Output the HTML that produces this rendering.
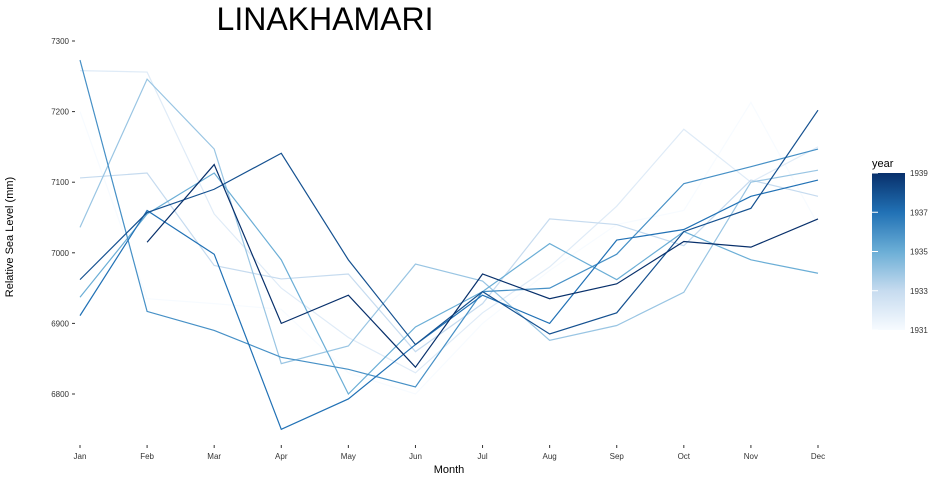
<!DOCTYPE html>
<html><head><meta charset="utf-8"><style>
body{margin:0;background:#fff;font-family:"Liberation Sans",sans-serif;}
</style></head><body>
<svg id="chart" width="940" height="480" xmlns="http://www.w3.org/2000/svg">
<defs><linearGradient id="cb" x1="0" y1="1" x2="0" y2="0">
<stop offset="0" stop-color="#f7fbff"/><stop offset="0.25" stop-color="#c6dbef"/><stop offset="0.5" stop-color="#6baed6"/><stop offset="0.75" stop-color="#2171b5"/><stop offset="1" stop-color="#08306b"/></linearGradient></defs>
<text x="325" y="30" font-size="32" text-anchor="middle" fill="#000">LINAKHAMARI</text>
<g id="axes"></g><g id="lines"></g>
<text x="449" y="473" font-size="11" text-anchor="middle">Month</text>
<text transform="translate(13,237) rotate(-90)" font-size="11" text-anchor="middle">Relative Sea Level (mm)</text>
<text x="872" y="167" font-size="11">year</text>
<rect x="872" y="173" width="33" height="157" fill="url(#cb)"/>
<g id="legend"></g>
</svg>
<script>
const months=["Jan","Feb","Mar","Apr","May","Jun","Jul","Aug","Sep","Oct","Nov","Dec"];
const yTicks=[6800,6900,7000,7100,7200,7300];
const years=[1931,1932,1933,1934,1935,1936,1937,1938,1939];
const legendTicks=[1931,1933,1935,1937,1939];
const s1931=[7200,6935,6928,6920,6830,6800,6900,6975,7040,7060,7213,7040];
const s1932=[7258,7256,7055,6950,6880,6830,6915,6980,7066,7175,7100,7150];
const s1933=[7106,7113,6982,6963,6970,6860,6928,7048,7040,7010,7103,7080];
const s1934=[7036,7246,7147,6843,6868,6984,6960,6876,6897,6944,7100,7117];
const s1935=[6937,7055,7113,6990,6800,6895,6945,7013,6962,7030,6990,6971];
const s1936=[7273,6917,6890,6852,6835,6810,6945,6950,6998,7098,7122,7147];
const s1937=[6911,7060,6998,6750,6793,6870,6940,6900,7018,7033,7080,7103];
const s1938=[6962,7057,7090,7141,6990,6870,6945,6885,6915,7030,7063,7202];
const s1939=[null,7015,7125,6900,6940,6838,6970,6935,6956,7016,7008,7048];
const series=[s1931,s1932,s1933,s1934,s1935,s1936,s1937,s1938,s1939];
const NS="http://www.w3.org/2000/svg";
const x=i=>80+i*(818-80)/11;
const y=v=>41+(7300-v)*0.706;
const ly=yr=>330-(yr-1931)*(157/8);
const stops=[[247,251,255],[198,219,239],[107,174,214],[33,113,181],[8,48,107]];
function col(yr){let t=(yr-1931)/8*4,i=Math.min(3,Math.floor(t)),f=t-i;const a=stops[i],b=stops[i+1];return `rgb(${a.map((c,k)=>Math.round(c+(b[k]-c)*f)).join(",")})`;}
const ax=document.getElementById("axes"),ln=document.getElementById("lines"),lg=document.getElementById("legend");
function mk(tag,attrs,parent){const e=document.createElementNS(NS,tag);for(const k in attrs)e.setAttribute(k,attrs[k]);parent.appendChild(e);return e;}
yTicks.forEach(v=>{
 const t=mk("text",{x:69,y:y(v)+3,"font-size":8,"text-anchor":"end",fill:"#333"},ax);t.textContent=v;
 
 
 const m=mk("line",{x1:72,x2:75,y1:y(v),y2:y(v),stroke:"#333"},ax);
 
 
});
months.forEach((m,i)=>{
 const t=mk("text",{x:x(i),y:459,"font-size":8,"text-anchor":"middle",fill:"#333"},ax);t.textContent=m;
 
 
 const k=mk("line",{x1:x(i),x2:x(i),y1:445,y2:448,stroke:"#333"},ax);
 
 
});
series.forEach((s,j)=>{
 const pts=[];s.forEach((v,i)=>{if(v!=null)pts.push(x(i)+","+y(v));});
 const p=mk("polyline",{points:pts.join(" "),fill:"none",stroke:col(years[j]),"stroke-width":1.2},ln);
 
 
});
legendTicks.forEach(yr=>{
 const t=mk("text",{x:910,y:ly(yr)+3,"font-size":8,fill:"#333"},lg);t.textContent=yr;
 
 
 const a=mk("line",{x1:872,x2:878,y1:ly(yr),y2:ly(yr),stroke:"#fff"},lg);
 
 
});
</script>
</body></html>
